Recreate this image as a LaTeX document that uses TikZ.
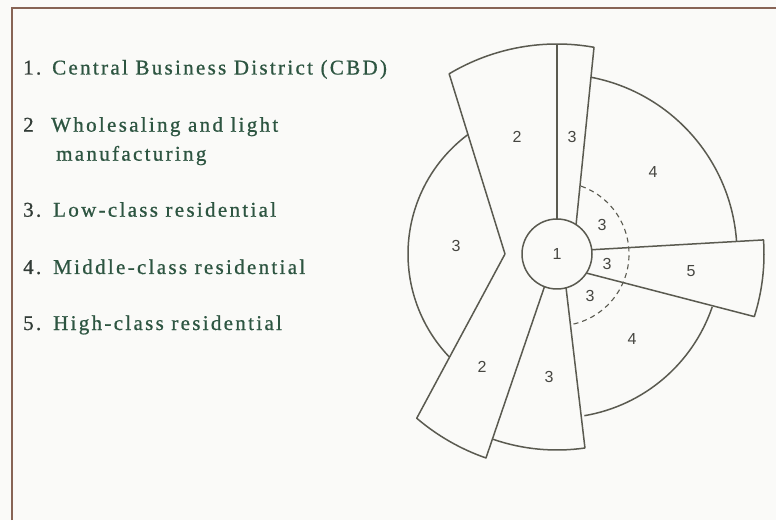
\documentclass[tikz,border=0pt]{standalone}
\usepackage{fontspec}
\setmainfont{Liberation Serif}
\setsansfont{Liberation Sans}
\newfontfamily\legendfont[LetterSpace=11,FakeBold=0.8]{Liberation Serif}
\usetikzlibrary{positioning}
\definecolor{paper}{RGB}{250,250,248}
\definecolor{framebrown}{RGB}{135,100,85}
\definecolor{zoneline}{RGB}{90,90,80}
\definecolor{digit}{RGB}{70,70,65}
\definecolor{legendtext}{RGB}{45,85,65}
\definecolor{numink}{RGB}{50,60,55}

\begin{document}
\begin{tikzpicture}[x=1pt,y=1pt,
    zone/.style={draw=zoneline,line width=1.5pt,line join=round},
    ring/.style={draw=zoneline,line width=1.1pt,dash pattern=on 5pt off 4pt},
    zone label/.style={font=\sffamily\fontsize{16}{16}\selectfont,text=digit,inner sep=0pt},
    item/.style={anchor=base west,inner sep=0pt,font=\legendfont\fontsize{21}{21}\selectfont,text=legendtext},
    item num/.style={item,text=numink}]
  \useasboundingbox (0,0) rectangle (776,520);
  \fill[paper] (0,0) rectangle (776,520);
  \draw[framebrown,line width=1.5pt] (12,0) -- (12,512) -- (776,512);

  % legend
  \node[item num] (n1) at (23,445.5) {1.};
  \node[item] (l1) at (52,445.5) {Central Business District (CBD)};
  \node[item num] (n2) at (23,388.3) {2};
  \node[item] (l2) at (51,388.3) {Wholesaling and light};
  \node[item] (l2b) at (56,359.3) {manufacturing};
  \node[item num] (n3) at (23,303.3) {3.};
  \node[item] (l3) at (53,303.3) {Low-class residential};
  \node[item num] (n4) at (23,246) {4.};
  \node[item] (l4) at (53,246) {Middle-class residential};
  \node[item num] (n5) at (23,190) {5.};
  \node[item] (l5) at (53,190) {High-class residential};

  \begin{scope}[shift={(557,266)}]
    \node[circle,zone,zone label,minimum size=70pt,outer sep=0pt] (cbd) at (0,0) {1};
    \coordinate (vtip) at (180:52pt);

    % sectors 2 and 3 to the north
    \draw[zone] (vtip) -- (120.9:210pt) arc[start angle=120.9,end angle=79.85,radius=210pt] -- (cbd.57);
    \path[zone] (cbd.90) edge (90:210pt);
    % sectors 2 and 3 to the south
    \draw[zone] (vtip) -- (229.5:216pt) arc[start angle=229.5,end angle=250.8,radius=216pt] -- (cbd.249);
    \draw[zone] (251:196pt) arc[start angle=251,end angle=278.2,radius=196pt] -- (cbd.285);
    % sector 5
    \draw[zone] (cbd.7) -- (3.9:207pt) arc[start angle=3.9,end angle=-17.6,radius=207pt] -- (cbd.327);
    % outer rings of 3 and 4
    \draw[zone] (79.1:180pt) arc[start angle=79.1,end angle=4,radius=180pt];
    \draw[zone] (279.6:164pt) arc[start angle=279.6,end angle=341.2,radius=164pt];
    \draw[zone] (126.7:149pt) arc[start angle=126.7,end angle=223.8,radius=149pt];
    \draw[ring] (70.5:72pt) arc[start angle=70.5,end angle=-79.2,radius=72pt];

    \node[zone label] (n2a) at (-40,117) {2};
    \node[zone label] (n3a) at (15,117) {3};
    \node[zone label] (n4a) at (96,82) {4};
    \node[zone label] (n3b) at (-101,8) {3};
    \node[zone label] (n3c) at (45,29) {3};
    \node[zone label] (n3d) at (50,-10) {3};
    \node[zone label] (n3e) at (33,-42) {3};
    \node[zone label] (n5a) at (134,-17) {5};
    \node[zone label] (n4b) at (75,-85) {4};
    \node[zone label] (n2b) at (-75,-113) {2};
    \node[zone label] (n3f) at (-8,-123) {3};
  \end{scope}
\end{tikzpicture}
\end{document}
